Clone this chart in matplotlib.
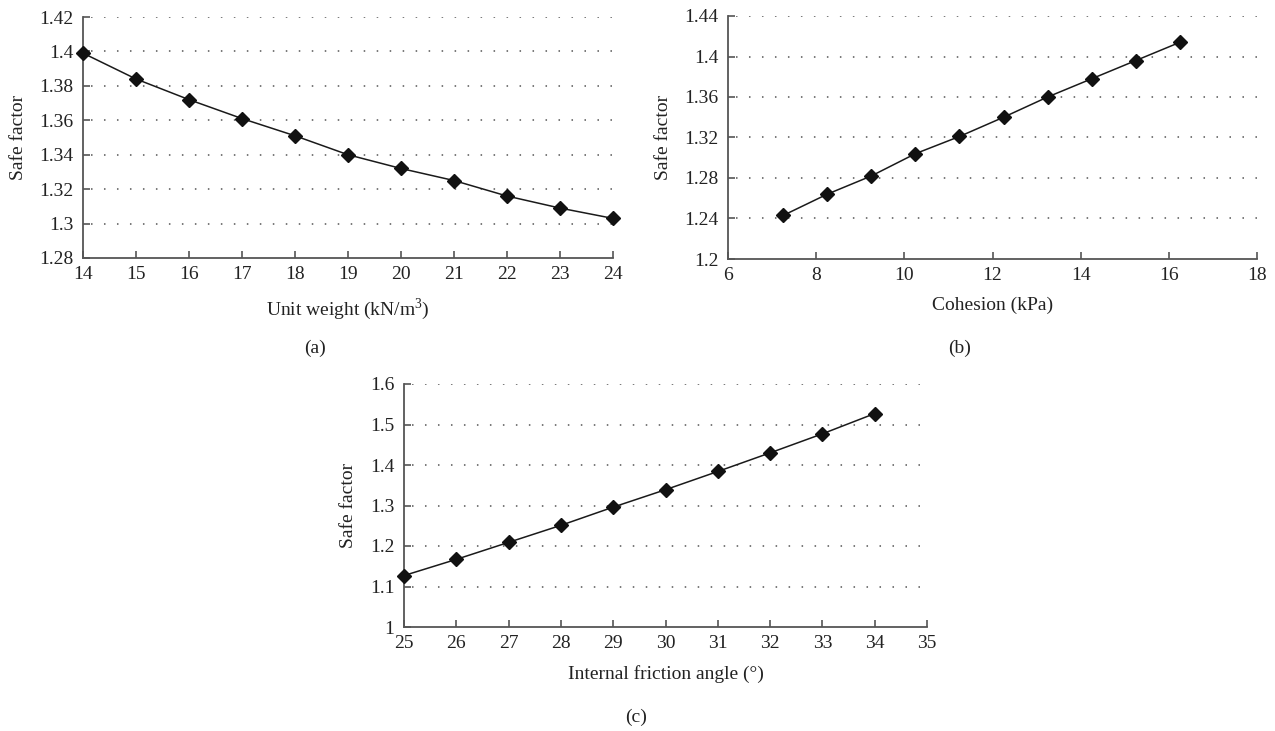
import numpy as np
import matplotlib
matplotlib.use("Agg")
from matplotlib import pyplot as plt

plt.rcParams['font.family'] = ['Liberation Serif', 'DejaVu Serif']
plt.rcParams['mathtext.fontset'] = 'custom'
plt.rcParams['mathtext.rm'] = 'Liberation Serif'

# (a) unit weight
unit_weight = [14, 15, 16, 17, 18, 19, 20, 21, 22, 23, 24]
sf_weight = [1.399, 1.384, 1.372, 1.361, 1.351, 1.340, 1.332, 1.325, 1.316, 1.309, 1.303]

# (b) cohesion
cohesion = [7.25, 8.25, 9.25, 10.25, 11.25, 12.25, 13.25, 14.25, 15.25, 16.25]
sf_cohesion = [1.243, 1.264, 1.282, 1.304, 1.321, 1.340, 1.360, 1.378, 1.396, 1.414]

# (c) internal friction angle
friction = [25, 26, 27, 28, 29, 30, 31, 32, 33, 34]
sf_friction = [1.127, 1.167, 1.209, 1.251, 1.296, 1.339, 1.384, 1.430, 1.477, 1.527]

W, H = 1275, 731
fig = plt.figure(figsize=(W / 100, H / 100), dpi=100)
txt = '#222222'
fs = 14


def make_ax(l, r, t, b):
    return fig.add_axes([l / W, 1 - b / H, (r - l) / W, (b - t) / H])


def style(ax, x, y, xlim, xticks, ylim, yticks, ylabels, xlabel, tag, tag_x, tag_y, ylab_x):
    ax.plot(x, y, color='#1a1a1a', lw=1.1, marker='D', ms=7.5,
            mfc='#111111', mec='#111111', clip_on=False, zorder=3)
    ax.set_xlim(*xlim)
    ax.set_ylim(*ylim)
    ax.set_xticks(xticks)
    ax.set_yticks(yticks)
    ax.set_yticklabels(ylabels)
    # dotted horizontal guides
    for yv in yticks[1:]:
        ax.axhline(yv, xmin=0.015, color='#555555', lw=1.1, ls=(0, (1, 7.5)), zorder=1)
    for s in ['top', 'right']:
        ax.spines[s].set_visible(False)
    for s in ['left', 'bottom']:
        ax.spines[s].set_color('#555555')
        ax.spines[s].set_linewidth(1.3)
    ax.tick_params(direction='in', length=5, width=1.2, color='#555555',
                   labelcolor=txt, labelsize=fs)
    ax.tick_params(axis='x', pad=6)
    ax.tick_params(axis='y', pad=7)
    ax.set_xlabel(xlabel, color=txt, fontsize=fs, labelpad=9)
    ax.set_ylabel('Safe factor', color=txt, fontsize=fs)
    bb = ax.get_position()
    ax.yaxis.set_label_coords(ylab_x / W, (bb.y0 + bb.y1) / 2, transform=fig.transFigure)
    fig.text(tag_x / W, 1 - tag_y / H, tag, ha='center', va='center',
             color=txt, fontsize=fs)


ax1 = make_ax(83, 613, 17, 258)
style(ax1, unit_weight, sf_weight, (14, 24), range(14, 25),
      (1.28, 1.42), [1.28, 1.30, 1.32, 1.34, 1.36, 1.38, 1.40, 1.42],
      ['1.28', '1.3', '1.32', '1.34', '1.36', '1.38', '1.4', '1.42'],
      'Unit weight (kN/m$^3$)', '(a)', 315, 348, 27)

ax2 = make_ax(728, 1257, 16, 259)
style(ax2, cohesion, sf_cohesion, (6, 18), range(6, 19, 2),
      (1.2, 1.44), [1.20, 1.24, 1.28, 1.32, 1.36, 1.40, 1.44],
      ['1.2', '1.24', '1.28', '1.32', '1.36', '1.4', '1.44'],
      'Cohesion (kPa)', '(b)', 960, 348, 672)

ax3 = make_ax(404, 927, 384, 627)
style(ax3, friction, sf_friction, (25, 35), range(25, 36),
      (1.0, 1.6), [1.0, 1.1, 1.2, 1.3, 1.4, 1.5, 1.6],
      ['1', '1.1', '1.2', '1.3', '1.4', '1.5', '1.6'],
      'Internal friction angle (°)', '(c)', 636, 717, 357)

fig.savefig('out.png', dpi=100)
